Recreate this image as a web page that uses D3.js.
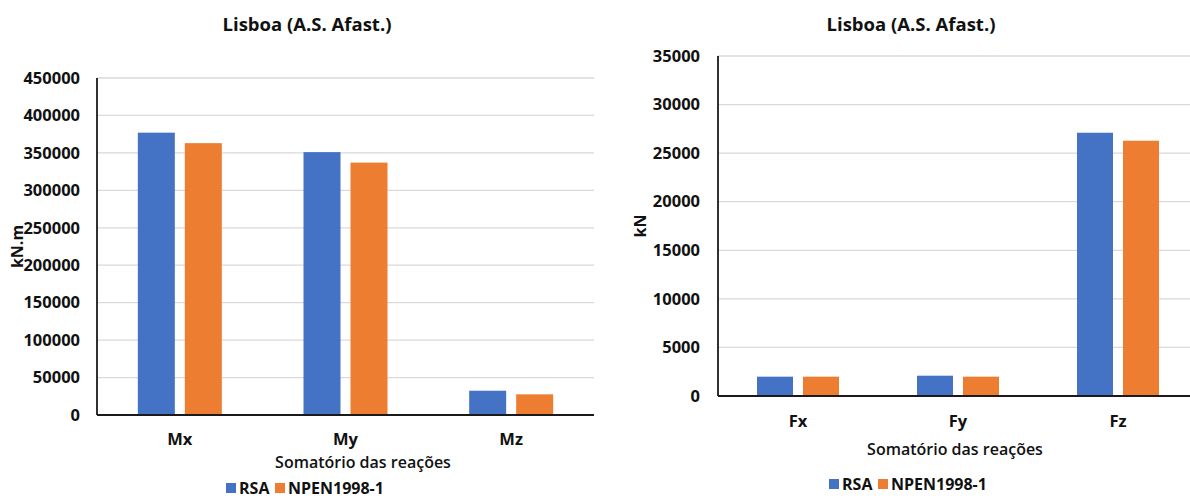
<!DOCTYPE html>
<html>
<head>
<meta charset="utf-8">
<script src="https://cdn.jsdelivr.net/npm/d3@7"></script>
<style>
  html, body { margin: 0; padding: 0; background: #fff; }
  svg { display: block; font-family: "Open Sans", sans-serif; }
</style>
</head>
<body>
<svg id="chart" width="1190" height="499"></svg>
<script>
// Series names shared by both panels
const seriesNames = ["RSA", "NPEN1998-1"];
const seriesColors = ["#4472C4", "#ED7D31"];

// Moments panel (kN.m)
const momentCategories = ["Mx", "My", "Mz"];
const momentRSA = [377000, 351000, 32400];
const momentNPEN = [363000, 337000, 27600];
const momentTicks = [0, 50000, 100000, 150000, 200000, 250000, 300000, 350000, 400000, 450000];

// Forces panel (kN)
const forceCategories = ["Fx", "Fy", "Fz"];
const forceRSA = [1990, 2090, 27100];
const forceNPEN = [1990, 1990, 26280];
const forceTicks = [0, 5000, 10000, 15000, 20000, 25000, 30000, 35000];

const svg = d3.select("#chart");

function drawPanel(cfg) {
  const g = svg.append("g");
  const y = d3.scaleLinear().domain([0, d3.max(cfg.ticks)]).range([cfg.bottom, cfg.top]);
  const x0 = d3.scaleBand().domain(cfg.categories).range([cfg.left, cfg.right]).padding(0);
  const half = cfg.groupWidth / 2;
  const x1 = d3.scaleBand().domain(seriesNames)
    .range([x0.bandwidth() / 2 - half, x0.bandwidth() / 2 + half])
    .paddingInner(cfg.barGap / ((cfg.groupWidth + cfg.barGap) / 2))
    .paddingOuter(0);

  // horizontal gridlines
  g.append("g").selectAll("line").data(cfg.ticks.filter(t => t > 0)).join("line")
    .attr("x1", cfg.left).attr("x2", cfg.right)
    .attr("y1", d => y(d)).attr("y2", d => y(d))
    .attr("stroke", "#d9d9d9").attr("stroke-width", 1.3);

  // y axis labels via d3 axis
  const yAxis = g.append("g")
    .attr("transform", `translate(${cfg.left},0)`)
    .call(d3.axisLeft(y).tickValues(cfg.ticks).tickSize(0).tickPadding(cfg.labelPad).tickFormat(d3.format("d")));
  yAxis.select(".domain").remove();
  yAxis.selectAll("text")
    .attr("font-family", "'Open Sans', sans-serif")
    .attr("font-size", 16.5).attr("font-weight", 700).attr("fill", "#111");

  // bars
  const rows = cfg.categories.map((c, i) => ({ cat: c, values: [cfg.rsa[i], cfg.npen[i]] }));
  const groups = g.append("g").selectAll("g").data(rows).join("g")
    .attr("transform", d => `translate(${x0(d.cat)},0)`);
  groups.selectAll("rect")
    .data(d => d.values.map((v, k) => ({ name: seriesNames[k], value: v, color: seriesColors[k] })))
    .join("rect")
    .attr("x", d => x1(d.name))
    .attr("width", x1.bandwidth())
    .attr("y", d => y(d.value))
    .attr("height", d => y(0) - y(d.value))
    .attr("fill", d => d.color);

  // axis lines
  g.append("line").attr("x1", cfg.left).attr("x2", cfg.left)
    .attr("y1", y(d3.max(cfg.ticks))).attr("y2", y(0))
    .attr("stroke", "#1a1a1a").attr("stroke-width", 1.8);
  g.append("line").attr("x1", cfg.left).attr("x2", cfg.right)
    .attr("y1", y(0)).attr("y2", y(0))
    .attr("stroke", "#1a1a1a").attr("stroke-width", 1.8);

  // category labels
  const xAxis = g.append("g")
    .attr("transform", `translate(0,${cfg.catY})`)
    .call(d3.axisBottom(x0).tickSize(0).tickPadding(0));
  xAxis.select(".domain").remove();
  xAxis.selectAll("text")
    .attr("dy", 0).attr("y", 0)
    .attr("font-family", "'Open Sans', sans-serif")
    .attr("font-size", 16.5).attr("font-weight", 700).attr("fill", "#111");

  // title
  g.append("text").attr("x", cfg.titleX).attr("y", cfg.titleY)
    .attr("text-anchor", "middle")
    .attr("font-size", 18.5).attr("font-weight", 700).attr("fill", "#111")
    .text("Lisboa (A.S. Afast.)");

  // x axis title
  g.append("text").attr("x", cfg.xTitleX).attr("y", cfg.xTitleY)
    .attr("text-anchor", "middle")
    .attr("font-size", 16).attr("font-weight", 600).attr("fill", "#111")
    .text("Somatório das reações");

  // y axis title
  g.append("text")
    .attr("transform", `translate(${cfg.yTitleX},${(cfg.top + cfg.bottom) / 2}) rotate(-90)`)
    .attr("text-anchor", "middle").attr("dominant-baseline", "central")
    .attr("font-size", 16).attr("font-weight", 700).attr("fill", "#111")
    .text(cfg.unit);

  // legend
  const leg = g.append("g").attr("transform", `translate(${cfg.legendX},${cfg.legendY})`);
  const items = [{ name: seriesNames[0], dx: 0 }, { name: seriesNames[1], dx: 49 }];
  items.forEach((it, k) => {
    leg.append("rect").attr("x", it.dx).attr("y", -11).attr("width", 10).attr("height", 10)
      .attr("fill", seriesColors[k]);
    leg.append("text").attr("x", it.dx + 13).attr("y", 0)
      .attr("font-size", 16).attr("font-weight", 700).attr("fill", "#111")
      .text(it.name);
  });
}

drawPanel({
  categories: momentCategories, rsa: momentRSA, npen: momentNPEN, ticks: momentTicks,
  left: 97, right: 594, top: 78, bottom: 415, groupWidth: 84, barGap: 10, labelPad: 17,
  catY: 445, titleX: 307, titleY: 31, xTitleX: 363, xTitleY: 468, yTitleX: 17,
  unit: "kN.m", legendX: 226, legendY: 494
});

drawPanel({
  categories: forceCategories, rsa: forceRSA, npen: forceNPEN, ticks: forceTicks,
  left: 718, right: 1198, top: 56, bottom: 396, groupWidth: 82, barGap: 10, labelPad: 18,
  catY: 427, titleX: 911, titleY: 31, xTitleX: 955, xTitleY: 455, yTitleX: 640,
  unit: "kN", legendX: 829, legendY: 490
});
</script>
</body>
</html>
